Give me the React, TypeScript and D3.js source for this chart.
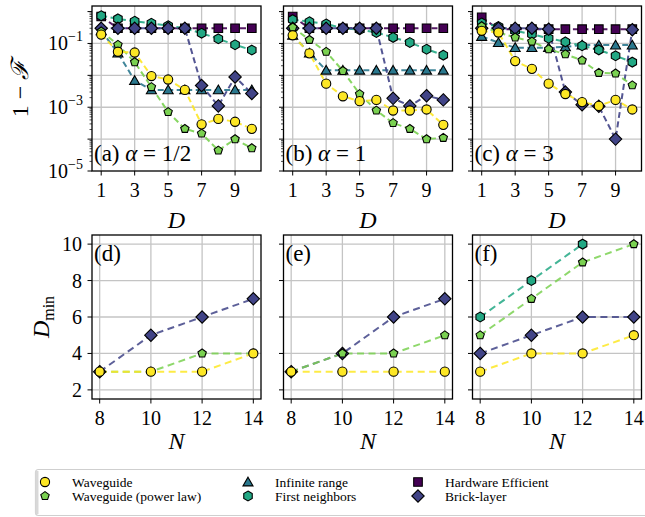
import React from "react";
import * as d3 from "d3";

// ---------- data ----------
const depths = [1, 2, 3, 4, 5, 6, 7, 8, 9, 10];
const sizesN = [8, 10, 12, 14];
const xTicksTop = [1, 3, 5, 7, 9];
const xTicksBottom = [8, 10, 12, 14];
const yLabelTicksTop = [1e-1, 1e-3, 1e-5];
const yLabelTextTop = ["−1", "−3", "−5"];
const yMajorTop = [1e-5, 1e-4, 1e-3, 1e-2, 1e-1, 1];
const yTicksBottom = [2, 4, 6, 8, 10];

const seriesNames = ["Waveguide", "Waveguide (power law)", "Infinite range", "First neighbors", "Hardware Efficient", "Brick-layer"];
const seriesColors = ["#fde725", "#7ad151", "#2a788e", "#22a884", "#440154", "#414487"];
const seriesShapes = ["circle", "pentagon", "triangle", "hexagon", "square", "diamond"];
const drawOrder = [2, 4, 3, 5, 1, 0];

// panel (a) alpha = 1/2
const waveguideA = [0.19, 0.055, 0.052, 9.5e-3, 7.4e-3, 3.5e-3, 2.9e-4, 4.3e-4, 3.5e-4, 2.1e-4];
const powerLawA = [0.24, 0.091, 0.026, 4.3e-3, 7.1e-4, 2.1e-4, 1.5e-4, 4.4e-5, 1.0e-4, 5.2e-5];
const infiniteA = [0.25, 0.05, 6.9e-3, 3.5e-3, 3.5e-3, 3.5e-3, 3.5e-3, 3.5e-3, 3.5e-3, 3.5e-3];
const firstNbA = [0.74, 0.59, 0.5, 0.43, 0.36, 0.3, 0.21, 0.14, 0.091, 0.062];
const hardwareA = [0.7, 0.3, 0.3, 0.3, 0.3, 0.3, 0.3, 0.3, 0.3, 0.3];
const brickA = [0.3, 0.3, 0.3, 0.3, 0.3, 0.3, 4.8e-3, 1.1e-3, 8.9e-3, 2.7e-3];

// panel (b) alpha = 1
const waveguideB = [0.18, 0.049, 5.5e-3, 2.2e-3, 1.55e-3, 1.7e-3, 7.9e-4, 7.9e-4, 8.5e-4, 2.8e-4];
const powerLawB = [0.32, 0.13, 0.055, 0.0138, 2.6e-3, 7.9e-4, 3.2e-4, 2.1e-4, 1.0e-4, 1.1e-4];
const infiniteB = [0.18, 0.05, 0.0145, 0.0145, 0.0145, 0.0145, 0.0145, 0.0145, 0.0145, 0.0145];
const firstNbB = [0.56, 0.48, 0.41, 0.3, 0.27, 0.22, 0.155, 0.107, 0.066, 0.043];
const hardwareB = [0.7, 0.3, 0.3, 0.3, 0.3, 0.3, 0.3, 0.3, 0.3, 0.3];
const brickB = [0.3, 0.3, 0.3, 0.3, 0.3, 0.3, 1.9e-3, 1.1e-3, 2.3e-3, 1.7e-3];

// panel (c) alpha = 3
const waveguideC = [0.25, 0.22, 0.028, 0.016, 5.5e-3, 2.6e-3, 1.45e-3, 1.1e-3, 1.7e-3, 8.5e-4];
const powerLawC = [0.35, 0.22, 0.155, 0.115, 0.066, 0.046, 0.0295, 0.012, 0.0115, 4.9e-3];
const infiniteC = [0.166, 0.107, 0.074, 0.074, 0.074, 0.078, 0.089, 0.089, 0.089, 0.089];
const firstNbC = [0.44, 0.34, 0.25, 0.195, 0.145, 0.112, 0.085, 0.063, 0.041, 0.026];
const hardwareC = [0.66, 0.28, 0.28, 0.28, 0.28, 0.28, 0.28, 0.28, 0.28, 0.28];
const brickC = [0.3, 0.3, 0.3, 0.3, 0.28, 3.0e-3, 1.2e-3, 1.07e-3, 1.0e-4, 0.27];

// D_min vs N
const dminWaveguideD = [3, 3, 3, 4];
const dminPowerD = [3, 3, 4, 4];
const dminBrickD = [3, 5, 6, 7];
const dminWaveguideE = [3, 3, 3, 3];
const dminPowerE = [3, 4, 4, 5];
const dminBrickE = [3, 4, 6, 7];
const dminWaveguideF = [3, 4, 4, 5];
const dminPowerF = [5, 7, 9, 10];
const dminBrickF = [4, 5, 6, 6];
const dminFirstF = [6, 8, 10];

const topPanels = [
  { label: "(a)", alpha: "1/2", series: [waveguideA, powerLawA, infiniteA, firstNbA, hardwareA, brickA] },
  { label: "(b)", alpha: "1", series: [waveguideB, powerLawB, infiniteB, firstNbB, hardwareB, brickB] },
  { label: "(c)", alpha: "3", series: [waveguideC, powerLawC, infiniteC, firstNbC, hardwareC, brickC] },
];
const bottomPanels = [
  { label: "(d)", series: [dminWaveguideD, dminPowerD, null, null, null, dminBrickD] },
  { label: "(e)", series: [dminWaveguideE, dminPowerE, null, null, null, dminBrickE] },
  { label: "(f)", series: [dminWaveguideF, dminPowerF, null, dminFirstF, null, dminBrickF] },
];

// ---------- layout ----------
const W = 645, H = 517;
const lefts = [92, 283.5, 472.5];
const PW = 169;
const topY0 = 6, topY1 = 171;
const botY0 = 235, botY1 = 399;
const FONT = "Liberation Serif, DejaVu Serif, serif";

function polygon(n: number, r: number, rot: number) {
  const pts: [number, number][] = [];
  for (let i = 0; i < n; i++) {
    const a = rot + (i * 2 * Math.PI) / n;
    pts.push([r * Math.sin(a), -r * Math.cos(a)]);
  }
  return "M" + pts.map((p) => p[0].toFixed(2) + "," + p[1].toFixed(2)).join("L") + "Z";
}

function Marker({ shape, x, y, color }: { shape: string; x: number; y: number; color: string }) {
  const common = { fill: color, stroke: "#000", strokeWidth: 1.1 };
  let d = "";
  if (shape === "circle") return <circle cx={x} cy={y} r={4.6} {...common} />;
  if (shape === "square") d = "M-4.3,-4.3L4.3,-4.3L4.3,4.3L-4.3,4.3Z";
  if (shape === "diamond") d = "M0,-6.2L6.2,0L0,6.2L-6.2,0Z";
  if (shape === "triangle") d = polygon(3, 5.8, 0);
  if (shape === "pentagon") d = polygon(5, 4.4, 0);
  if (shape === "hexagon") d = polygon(6, 4.9, 0);
  const dy = shape === "triangle" ? 1 : 0;
  return <path d={d} transform={`translate(${x},${y + dy})`} {...common} />;
}

function TopPanel({ idx }: { idx: number }) {
  const p = topPanels[idx];
  const x0 = lefts[idx];
  const x = d3.scaleLinear().domain([0.45, 10.55]).range([x0, x0 + PW]);
  const y = d3.scaleLog().domain([1e-5, Math.pow(10, 0.175)]).range([topY1, topY0]);
  const line = d3.line<number>().x((_, i) => x(depths[i])).y((v) => y(v));
  const minor: number[] = [];
  for (let e = -5; e <= 0; e++) for (let s = 2; s <= 9; s++) {
    const v = s * Math.pow(10, e);
    if (v < y.domain()[1]) minor.push(v);
  }
  return (
    <g>
      {xTicksTop.map((t) => (
        <line key={"gx" + t} x1={x(t)} x2={x(t)} y1={topY0} y2={topY1} stroke="#c4c4c4" strokeWidth={1.3} />
      ))}
      {yMajorTop.filter((v) => v > 1e-5 && v < 1).map((t) => (
        <line key={"gy" + t} x1={x0} x2={x0 + PW} y1={y(t)} y2={y(t)} stroke="#c4c4c4" strokeWidth={1.3} />
      ))}
      {xTicksTop.map((t) => (
        <g key={"tx" + t}>
          <line x1={x(t)} x2={x(t)} y1={topY1} y2={topY1 + 4.5} stroke="#000" strokeWidth={1} />
          <text x={x(t)} y={197} fontSize={20} textAnchor="middle" fontFamily={FONT}>{t}</text>
        </g>
      ))}
      {yMajorTop.map((t) => (
        <line key={"ty" + t} x1={x0 - 4.5} x2={x0} y1={y(t)} y2={y(t)} stroke="#000" strokeWidth={1} />
      ))}
      {minor.map((t) => (
        <line key={"tm" + t} x1={x0 - 2.5} x2={x0} y1={y(t)} y2={y(t)} stroke="#000" strokeWidth={0.7} />
      ))}
      {idx === 0 && yLabelTicksTop.map((t, i) => (
        <text key={"yl" + t} x={83} y={y(t) + 7} fontSize={20} textAnchor="end" fontFamily={FONT}>
          10<tspan fontSize={14} dy={-9}>{yLabelTextTop[i]}</tspan>
        </text>
      ))}
      {drawOrder.map((si) => (
        <path key={"s" + si} d={line(p.series[si]) || ""} fill="none" stroke={seriesColors[si]} strokeWidth={2} strokeDasharray="6,3.5" opacity={0.9} />
      ))}
      {drawOrder.map((si) => (
        <g key={"m" + si}>
          {p.series[si].map((v, i) => (
            <Marker key={i} shape={seriesShapes[si]} x={x(depths[i])} y={y(v)} color={seriesColors[si]} />
          ))}
        </g>
      ))}
      <text x={x0 + 2} y={161} fontSize={23} fontFamily={FONT}>
        {p.label} <tspan fontStyle="italic">α</tspan> = {p.alpha}
      </text>
      <rect x={x0} y={topY0} width={PW} height={topY1 - topY0} fill="none" stroke="#000" strokeWidth={1.3} />
      <text x={x0 + PW / 2} y={228} fontSize={24} fontStyle="italic" textAnchor="middle" fontFamily={FONT}>D</text>
    </g>
  );
}

function BottomPanel({ idx }: { idx: number }) {
  const p = bottomPanels[idx];
  const x0 = lefts[idx];
  const x = d3.scaleLinear().domain([7.7, 14.3]).range([x0, x0 + PW]);
  const y = d3.scaleLinear().domain([1.5, 10.5]).range([botY1, botY0]);
  const line = d3.line<number>().x((_, i) => x(sizesN[i])).y((v) => y(v));
  return (
    <g>
      {xTicksBottom.map((t) => (
        <line key={"gx" + t} x1={x(t)} x2={x(t)} y1={botY0} y2={botY1} stroke="#c4c4c4" strokeWidth={1.3} />
      ))}
      {yTicksBottom.map((t) => (
        <line key={"gy" + t} x1={x0} x2={x0 + PW} y1={y(t)} y2={y(t)} stroke="#c4c4c4" strokeWidth={1.3} />
      ))}
      {xTicksBottom.map((t) => (
        <g key={"tx" + t}>
          <line x1={x(t)} x2={x(t)} y1={botY1} y2={botY1 + 4.5} stroke="#000" strokeWidth={1} />
          <text x={x(t)} y={425} fontSize={20} textAnchor="middle" fontFamily={FONT}>{t}</text>
        </g>
      ))}
      {yTicksBottom.map((t) => (
        <g key={"ty" + t}>
          <line x1={x0 - 4.5} x2={x0} y1={y(t)} y2={y(t)} stroke="#000" strokeWidth={1} />
          {idx === 0 && (
            <text x={82} y={y(t) + 7} fontSize={20} textAnchor="end" fontFamily={FONT}>{t}</text>
          )}
        </g>
      ))}
      {drawOrder.map((si) => {
        const vals = p.series[si];
        if (!vals) return null;
        return (
          <path key={"s" + si} d={line(vals) || ""} fill="none" stroke={seriesColors[si]} strokeWidth={2} strokeDasharray="7,4.5" opacity={0.85} />
        );
      })}
      {drawOrder.map((si) => {
        const vals = p.series[si];
        if (!vals) return null;
        return (
          <g key={"m" + si}>
            {vals.map((v, i) => (
              <Marker key={i} shape={seriesShapes[si]} x={x(sizesN[i])} y={y(v)} color={seriesColors[si]} />
            ))}
          </g>
        );
      })}
      <text x={x0 + 2} y={261} fontSize={23} fontFamily={FONT}>{p.label}</text>
      <rect x={x0} y={botY0} width={PW} height={botY1 - botY0} fill="none" stroke="#000" strokeWidth={1.3} />
      <text x={x0 + PW / 2} y={449} fontSize={24} fontStyle="italic" textAnchor="middle" fontFamily={FONT}>N</text>
    </g>
  );
}

const legendCols = [45, 248, 418];
const legendRows = [482, 496];

export default function App() {
  return (
    <svg width={W} height={H} style={{ position: "absolute", left: 0, top: 0, background: "#fff" }} fontFamily={FONT}>
      <rect x={0} y={0} width={W} height={H} fill="#fff" />
      {[0, 1, 2].map((i) => <TopPanel key={"t" + i} idx={i} />)}
      {[0, 1, 2].map((i) => <BottomPanel key={"b" + i} idx={i} />)}
      <text transform={`translate(28,${(topY0 + topY1) / 2}) rotate(-90)`} fontSize={24} textAnchor="middle" fontFamily={FONT}>
        1 − <tspan fontStyle="italic">ℱ</tspan>
      </text>
      <text transform={`translate(49,${(botY0 + botY1) / 2}) rotate(-90)`} fontSize={24} textAnchor="middle" fontFamily={FONT}>
        <tspan fontStyle="italic">D</tspan><tspan fontSize={16} dy={5}>min</tspan>
      </text>
      <rect x={35.5} y={469.5} width={640} height={46} rx={3} fill="#fff" stroke="#cfcfcf" strokeWidth={1.2} />
      <line x1={37} x2={37} y1={471} y2={514} stroke="#d8d8d8" strokeWidth={3} />
      {seriesNames.map((name, i) => {
        const col = Math.floor(i / 2), row = i % 2;
        const cx = legendCols[col], cy = legendRows[row];
        return (
          <g key={name}>
            <Marker shape={seriesShapes[i]} x={cx} y={cy} color={seriesColors[i]} />
            <text x={cx + 27} y={cy + 4.5} fontSize={13.5} fontFamily={FONT}>{name}</text>
          </g>
        );
      })}
    </svg>
  );
}
